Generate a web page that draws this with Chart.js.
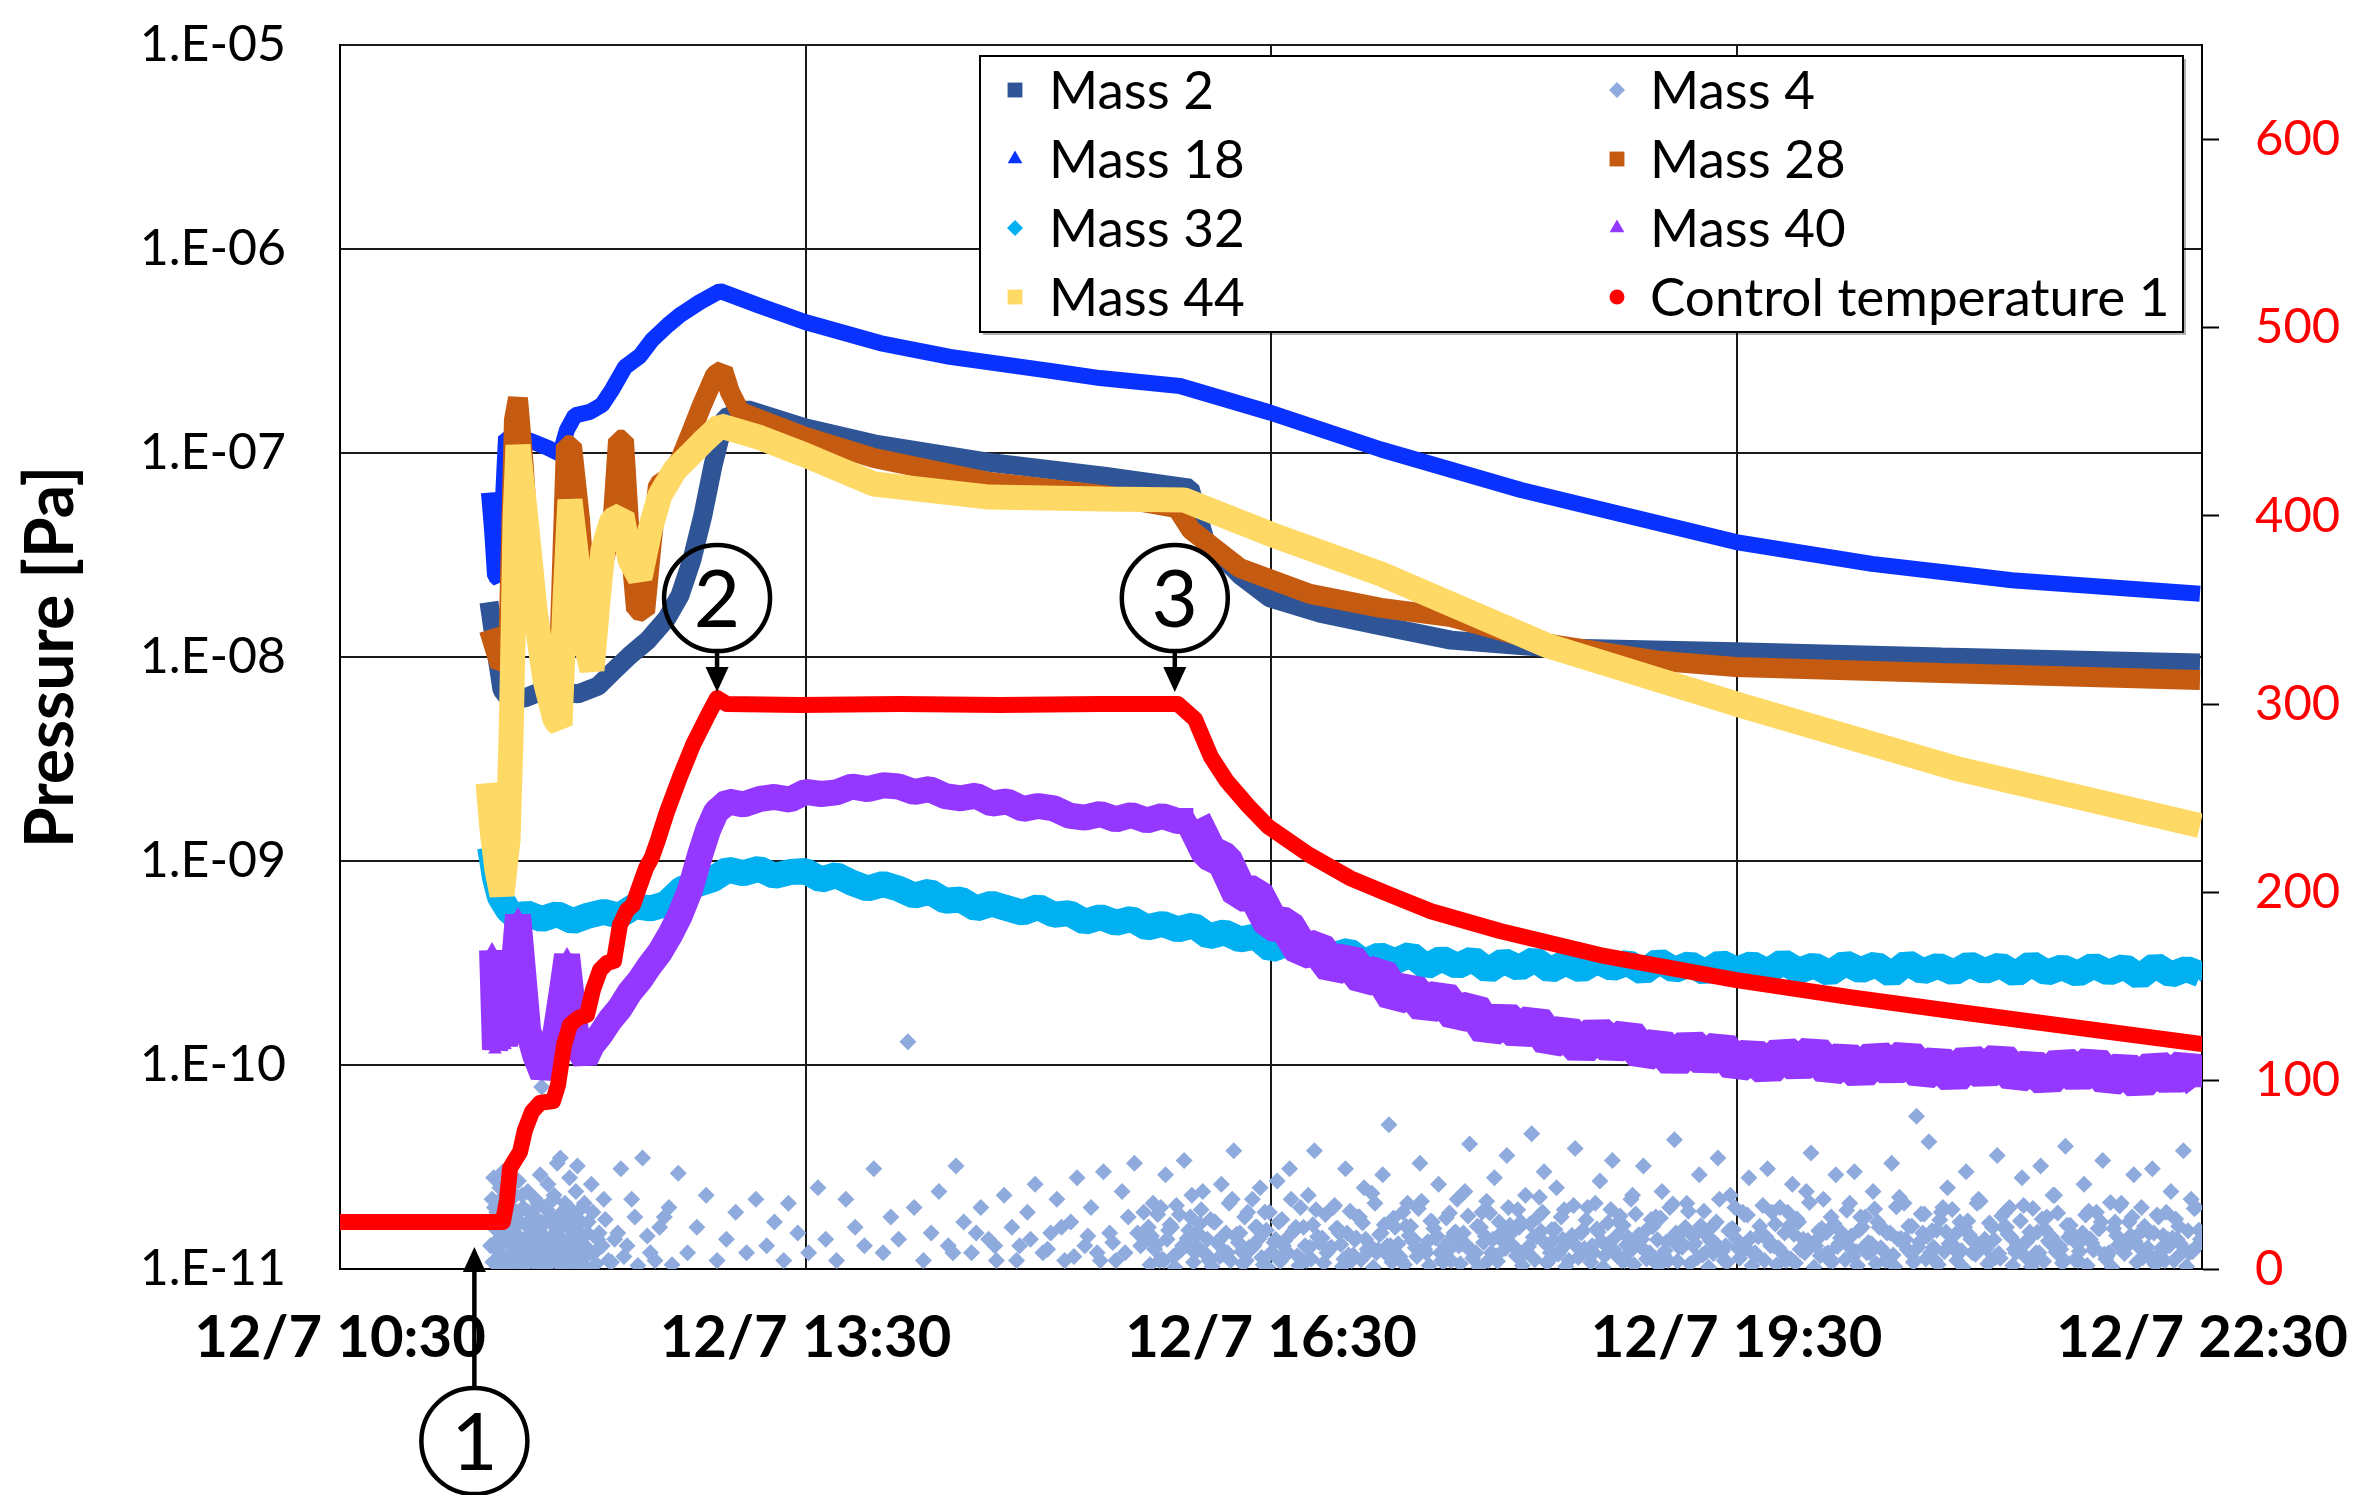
<!DOCTYPE html>
<html>
<head>
<meta charset="utf-8">
<title>Pressure and control temperature</title>
<script src="https://cdn.jsdelivr.net/npm/chart.js@4.4.1/dist/chart.umd.min.js"></script>
<style>
  html, body { margin: 0; padding: 0; background: #ffffff; }
  #wrap { width: 2357px; height: 1495px; position: relative; }
</style>
</head>
<body>
<div id="wrap"><canvas id="chart" width="2357" height="1495"></canvas></div>
<script>
// ---- axis ticks -------------------------------------------------------
const timeTicks = [10.5, 13.5, 16.5, 19.5, 22.5];            // hours of 12/7
const timeLabels = ['12/7 10:30', '12/7 13:30', '12/7 16:30', '12/7 19:30', '12/7 22:30'];
const pressureTicks = [1e-11, 1e-10, 1e-9, 1e-8, 1e-7, 1e-6, 1e-5];
const tempTicks = [0, 100, 200, 300, 400, 500, 600];

// ---- series: [time (h), pressure (Pa)] -------------------------------
const mass2 = [
  [11.460,1.86e-8],[11.505,1.08e-8],[11.544,6.9e-9],[11.596,6.15e-9],[11.692,6.3e-9],[11.821,6.9e-9],
  [11.918,6.7e-9],[12.034,6.6e-9],[12.163,7.2e-9],[12.253,8.4e-9],[12.369,1.02e-8],[12.485,1.21e-8],
  [12.607,1.55e-8],[12.691,2.0e-8],[12.768,3.0e-8],[12.839,4.96e-8],[12.904,8.7e-8],[12.981,1.49e-7],
  [13.129,1.63e-7],[13.497,1.33e-7],[13.941,1.11e-7],[14.683,9.0e-8],[15.424,7.7e-8],[15.978,6.73e-8],
  [16.075,3.75e-8],[16.300,2.52e-8],[16.493,1.95e-8],[16.816,1.64e-8],[17.209,1.42e-8],[17.660,1.21e-8],
  [18.291,1.11e-8],[19.497,1.06e-8],[20.824,1.0e-8],[22.487,9.35e-9]
];

const mass4 = [
  [11.47,1.3e-11],[11.48,2.2e-11],[11.49,2.8e-11],[11.49,1.6e-11],[11.50,1.1e-11],[11.51,1.9e-11],[11.52,1.4e-11],[11.53,2.5e-11],
  [11.53,1.2e-11],[11.54,1.8e-11],[11.55,3.0e-11],[11.56,1.5e-11],[11.57,1.1e-11],[11.58,2.1e-11],[11.58,1.6e-11],[11.59,2.6e-11],
  [11.60,1.3e-11],[11.61,1.9e-11],[11.62,1.2e-11],[11.63,2.3e-11],[11.63,1.5e-11],[11.64,1.1e-11],[11.65,2.7e-11],[11.66,1.7e-11],
  [11.67,1.3e-11],[11.68,2.0e-11],[11.69,1.4e-11],[11.70,1.2e-11],[11.71,2.4e-11],[11.72,1.6e-11],[11.73,1.1e-11],[11.74,1.9e-11],
  [11.75,1.3e-11],[11.76,2.2e-11],[11.77,1.5e-11],[11.78,1.2e-11],[11.79,2.9e-11],[11.80,7.8e-11],[11.80,1.7e-11],[11.81,1.1e-11],
  [11.82,2.0e-11],[11.83,1.4e-11],[11.84,2.6e-11],[11.85,1.3e-11],[11.86,1.8e-11],[11.87,1.1e-11],[11.88,2.3e-11],[11.89,1.5e-11],
  [11.90,3.3e-11],[11.91,1.2e-11],[11.92,3.5e-11],[11.93,1.7e-11],[11.94,1.3e-11],[11.95,2.1e-11],[11.96,1.1e-11],[11.97,1.6e-11],
  [11.98,2.8e-11],[11.99,1.4e-11],[12.00,1.9e-11],[12.01,1.2e-11],[12.02,2.4e-11],[12.03,3.2e-11],[12.04,1.5e-11],[12.05,1.1e-11],
  [12.06,2.0e-11],[12.08,1.3e-11],[12.10,1.7e-11],[12.12,2.6e-11],[12.14,1.2e-11],[12.17,1.5e-11],[12.20,2.2e-11],[12.23,1.1e-11],
  [12.27,1.4e-11],[12.31,3.1e-11],[12.35,1.3e-11],[12.40,1.8e-11],[12.45,3.5e-11],[12.50,1.2e-11],[12.56,1.6e-11],[12.62,2.0e-11],
  [12.68,2.95e-11],
  [11.485,1.08e-11],[11.505,1.25e-11],[11.525,1.04e-11],[11.545,1.35e-11],[11.565,1.12e-11],[11.585,1.02e-11],[11.605,1.28e-11],
  [11.625,1.07e-11],[11.645,1.4e-11],[11.665,1.15e-11],[11.685,1.03e-11],[11.705,1.3e-11],[11.725,1.1e-11],[11.745,1.22e-11],
  [11.765,1.05e-11],[11.785,1.38e-11],[11.805,1.13e-11],[11.825,1.02e-11],[11.845,1.26e-11],[11.865,1.09e-11],[11.885,1.33e-11],
  [11.905,1.06e-11],[11.925,1.18e-11],[11.945,1.02e-11],[11.965,1.36e-11],[11.985,1.1e-11],[12.005,1.24e-11],[12.025,1.04e-11],
  [12.045,1.3e-11],[12.065,1.12e-11],[12.085,1.02e-11],[12.11,1.2e-11],[12.15,1.06e-11],[12.19,1.3e-11],[12.25,1.08e-11],
  [12.33,1.15e-11],[12.42,1.04e-11],[12.53,1.1e-11],[12.64,1.05e-11],
  [11.475,1.7e-11],[11.495,2.0e-11],[11.515,1.55e-11],[11.535,2.2e-11],[11.555,1.75e-11],[11.575,1.45e-11],[11.595,2.05e-11],
  [11.615,1.6e-11],[11.635,1.85e-11],[11.655,1.4e-11],[11.675,2.3e-11],[11.695,1.65e-11],[11.715,1.9e-11],[11.735,1.5e-11],
  [11.755,1.8e-11],[11.775,2.1e-11],[11.795,1.6e-11],[11.815,1.45e-11],[11.835,1.95e-11],[11.855,1.7e-11],[11.875,2.2e-11],
  [11.895,1.55e-11],[11.915,1.85e-11],[11.935,1.4e-11],[11.955,1.75e-11],[11.975,2.0e-11],[11.995,1.6e-11],[12.015,1.8e-11],
  [12.035,1.45e-11],[12.055,1.7e-11],[12.075,2.1e-11],[12.095,1.5e-11],[12.13,1.9e-11],[12.16,1.4e-11],[12.21,1.75e-11],
  [12.29,1.5e-11],[12.38,2.2e-11],[12.48,1.45e-11],[12.59,1.8e-11],
  [12.74,1.2e-11],[12.80,1.6e-11],[12.86,2.3e-11],[12.93,1.1e-11],[12.99,1.4e-11],[13.05,1.9e-11],[13.12,1.2e-11],[13.18,2.2e-11],
  [13.25,1.3e-11],[13.30,1.7e-11],[13.36,1.1e-11],[13.39,2.1e-11],[13.45,1.5e-11],[13.52,1.2e-11],[13.58,2.5e-11],[13.63,1.4e-11],
  [13.70,1.1e-11],[13.76,2.2e-11],[13.82,1.6e-11],[13.88,1.3e-11],[13.94,3.1e-11],[14.00,1.2e-11],[14.05,1.8e-11],[14.10,1.4e-11],
  [14.16,1.3e-10],[14.20,2.0e-11],[14.26,1.1e-11],[14.31,1.5e-11],[14.36,2.4e-11],[14.42,1.3e-11],[14.47,3.2e-11],[14.52,1.7e-11],
  [14.57,1.2e-11],[14.63,2.0e-11],[14.68,1.4e-11],[14.73,1.1e-11],[14.78,2.3e-11],[14.83,1.6e-11],[14.88,1.3e-11],[14.93,1.9e-11],
  [14.98,2.6e-11],[15.03,1.2e-11],[15.08,1.5e-11],[15.12,2.2e-11],[15.17,1.1e-11],[15.21,1.7e-11],[15.25,2.8e-11],[15.30,1.3e-11],
  [15.34,2.0e-11],[15.38,1.2e-11],[15.42,3.0e-11],[15.46,1.5e-11],[15.50,1.1e-11],[15.54,2.4e-11],[15.58,1.8e-11],[15.62,3.3e-11],
  [15.66,1.3e-11],
  [14.45,1.2e-11],[14.60,1.5e-11],[14.72,1.3e-11],[14.86,1.1e-11],[14.95,1.4e-11],[15.06,1.25e-11],[15.15,1.6e-11],
  [15.23,1.15e-11],[15.32,1.45e-11],[15.40,1.1e-11],[15.48,1.35e-11],[15.56,1.2e-11],[15.64,1.5e-11],[15.68,1.9e-11],
  [15.70,1.4e-11],[15.72,1.05e-11],[15.74,2.1e-11],[15.76,1.32e-11],[15.78,1.1e-11],[15.80,1.12e-11],[15.82,2.9e-11],[15.84,1.55e-11],[15.86,1.6e-11],[15.88,1.02e-11],
  [15.90,1.2e-11],[15.92,1.24e-11],[15.94,3.4e-11],[15.96,1.41e-11],[15.98,1.8e-11],[16.00,1.08e-11],[16.02,1.3e-11],[16.04,1.66e-11],[16.06,2.4e-11],[16.08,1.18e-11],
  [16.10,1.1e-11],[16.12,1.03e-11],[16.14,1.7e-11],[16.16,1.37e-11],[16.18,2.6e-11],[16.20,1.22e-11],[16.22,1.2e-11],[16.24,1.1e-11],[16.26,3.8e-11],[16.28,1.48e-11],
  [16.30,1.5e-11],[16.32,1.06e-11],[16.34,1.1e-11],[16.36,1.28e-11],[16.38,2.2e-11],[16.40,1.6e-11],[16.42,1.4e-11],[16.44,1.14e-11],[16.46,1.9e-11],[16.48,1.02e-11],
  [16.50,1.2e-11],[16.52,1.35e-11],[16.54,2.7e-11],[16.56,1.09e-11],[16.58,1.3e-11],[16.60,1.21e-11],[16.62,3.1e-11],[16.64,1.52e-11],[16.66,1.6e-11],[16.68,1.04e-11],
  [16.70,1.1e-11],[16.72,1.3e-11],[16.74,2.3e-11],[16.76,1.12e-11],[16.78,3.8e-11],[16.80,1.44e-11],[16.82,1.4e-11],[16.84,1.07e-11],[16.86,1.2e-11],[16.88,1.26e-11],
  [16.90,2.0e-11],[16.92,1.58e-11],[16.94,1.5e-11],[16.96,1.03e-11],[16.98,3.1e-11],[17.00,1.17e-11],[17.02,1.1e-11],[17.04,1.39e-11],[17.06,1.8e-11],[17.08,1.11e-11],
  [17.10,2.5e-11],[17.12,1.25e-11],[17.14,1.3e-11],[17.16,1.02e-11],[17.18,1.2e-11],[17.20,1.47e-11],[17.22,2.9e-11],[17.24,1.19e-11],[17.26,5.1e-11],[17.28,1.08e-11],
  [17.30,1.6e-11],[17.32,1.33e-11],[17.34,1.1e-11],[17.36,1.05e-11],[17.38,2.1e-11],[17.40,1.62e-11],[17.42,1.4e-11],[17.44,1.15e-11],[17.46,3.3e-11],[17.48,1.27e-11],
  [17.50,1.2e-11],[17.52,1.04e-11],[17.54,1.7e-11],[17.56,1.42e-11],[17.58,2.6e-11],[17.60,1.1e-11],[17.62,1.3e-11],[17.64,1.23e-11],[17.66,1.1e-11],[17.68,1.5e-11],
  [17.70,2.2e-11],[17.72,1.06e-11],[17.74,1.5e-11],[17.76,1.31e-11],[17.78,4.1e-11],[17.80,1.13e-11],[17.82,1.2e-11],[17.84,1.02e-11],[17.86,1.9e-11],[17.88,1.45e-11],
  [17.90,1.1e-11],[17.92,1.2e-11],[17.94,2.8e-11],[17.96,1.09e-11],[17.98,1.4e-11],[18.00,1.36e-11],[18.02,3.6e-11],[18.04,1.64e-11],[18.06,1.3e-11],[18.08,1.16e-11],
  [18.10,1.6e-11],[18.12,1.04e-11],[18.14,2.3e-11],[18.16,1.29e-11],[18.18,4.6e-11],[18.20,1.11e-11],[18.22,1.8e-11],[18.24,1.53e-11],[18.26,3.0e-11],[18.28,1.07e-11],
  [18.30,1.2e-11],[18.32,1.38e-11],[18.34,2.5e-11],[18.36,1.22e-11],[18.38,1.4e-11],[18.40,1.03e-11],[18.42,1.1e-11],[18.44,1.46e-11],[18.46,3.9e-11],[18.48,1.14e-11],
  [18.50,1.5e-11],[18.52,1.26e-11],[18.54,2.0e-11],[18.56,1.08e-11],[18.58,1.2e-11],[18.60,1.57e-11],[18.62,2.7e-11],[18.64,1.02e-11],[18.66,1.3e-11],[18.68,1.34e-11],
  [18.70,3.4e-11],[18.72,1.18e-11],[18.74,1.7e-11],[18.76,1.1e-11],[18.78,1.1e-11],[18.80,1.43e-11],[18.82,2.2e-11],[18.84,1.05e-11],[18.86,1.4e-11],[18.88,1.29e-11],
  [18.90,3.2e-11],[18.92,1.12e-11],[18.94,1.2e-11],[18.96,1.61e-11],[18.98,1.8e-11],[19.00,1.04e-11],[19.02,2.4e-11],[19.04,1.23e-11],[19.06,1.1e-11],[19.08,1.4e-11],
  [19.10,4.3e-11],[19.12,1.09e-11],[19.14,1.5e-11],[19.16,1.31e-11],[19.18,2.1e-11],[19.20,1.06e-11],[19.22,1.3e-11],[19.24,1.49e-11],[19.26,2.9e-11],[19.28,1.17e-11],
  [19.30,1.2e-11],[19.32,1.02e-11],[19.34,1.6e-11],[19.36,1.35e-11],[19.38,3.5e-11],[19.40,1.21e-11],[19.42,1.1e-11],[19.44,1.08e-11],[19.46,2.3e-11],[19.48,1.56e-11],
  [19.50,1.4e-11],[19.52,1.13e-11],[19.54,1.9e-11],[19.56,1.27e-11],[19.58,2.8e-11],[19.60,1.04e-11],[19.62,1.2e-11],[19.64,1.44e-11],[19.66,1.5e-11],[19.68,1.1e-11],
  [19.70,3.1e-11],[19.72,1.3e-11],[19.74,1.3e-11],[19.76,1.05e-11],[19.78,2.0e-11],[19.80,1.19e-11],[19.82,1.1e-11],[19.84,1.63e-11],[19.86,2.6e-11],[19.88,1.07e-11],
  [19.90,1.7e-11],[19.92,1.24e-11],[19.94,1.2e-11],[19.96,1.38e-11],[19.98,3.7e-11],[20.00,1.02e-11],[20.02,1.4e-11],[20.04,1.16e-11],[20.06,2.2e-11],[20.08,1.51e-11],
  [20.10,1.1e-11],[20.12,1.09e-11],[20.14,2.9e-11],[20.16,1.33e-11],[20.18,1.5e-11],[20.20,1.11e-11],[20.22,1.3e-11],[20.24,1.45e-11],[20.26,3.0e-11],[20.28,1.04e-11],
  [20.30,1.8e-11],[20.32,1.28e-11],[20.34,1.2e-11],[20.36,1.2e-11],[20.38,2.4e-11],[20.40,1.06e-11],[20.42,1.6e-11],[20.44,1.59e-11],[20.46,1.1e-11],[20.48,1.14e-11],
  [20.50,3.3e-11],[20.52,1.03e-11],[20.54,1.4e-11],[20.56,1.41e-11],[20.58,2.1e-11],[20.60,1.25e-11],[20.62,1.2e-11],[20.64,1.08e-11],[20.66,5.6e-11],[20.68,1.36e-11],
  [20.70,1.5e-11],[20.72,1.12e-11],[20.74,4.2e-11],[20.76,1.54e-11],[20.78,1.1e-11],[20.80,1.05e-11],[20.82,1.9e-11],[20.84,1.22e-11],[20.86,2.5e-11],[20.88,1.32e-11],
  [20.90,1.3e-11],[20.92,1.1e-11],[20.94,1.7e-11],[20.96,1.02e-11],[20.98,3.0e-11],[21.00,1.47e-11],[21.02,1.2e-11],[21.04,1.18e-11],[21.06,2.2e-11],[21.08,1.29e-11],
  [21.10,1.4e-11],[21.12,1.06e-11],[21.14,1.1e-11],[21.16,1.39e-11],[21.18,3.6e-11],[21.20,1.13e-11],[21.22,1.6e-11],[21.24,1.6e-11],[21.26,2.0e-11],[21.28,1.04e-11],
  [21.30,1.2e-11],[21.32,1.26e-11],[21.34,2.8e-11],[21.36,1.15e-11],[21.38,1.4e-11],[21.40,1.03e-11],[21.42,1.1e-11],[21.44,1.52e-11],[21.46,3.2e-11],[21.48,1.09e-11],
  [21.50,1.8e-11],[21.52,1.34e-11],[21.54,2.3e-11],[21.56,1.21e-11],[21.58,1.3e-11],[21.60,1.07e-11],[21.62,4.0e-11],[21.64,1.43e-11],[21.66,1.5e-11],[21.68,1.11e-11],
  [21.70,1.1e-11],[21.72,1.37e-11],[21.74,2.6e-11],[21.76,1.04e-11],[21.78,1.4e-11],[21.80,1.24e-11],[21.82,1.9e-11],[21.84,1.58e-11],[21.86,3.4e-11],[21.88,1.12e-11],
  [21.90,1.2e-11],[21.92,1.02e-11],[21.94,1.7e-11],[21.96,1.31e-11],[21.98,2.1e-11],[22.00,1.19e-11],[22.02,1.3e-11],[22.04,1.46e-11],[22.06,2.9e-11],[22.08,1.08e-11],
  [22.10,1.5e-11],[22.12,1.14e-11],[22.14,1.2e-11],[22.16,1.5e-11],[22.18,3.1e-11],[22.20,1.05e-11],[22.22,1.8e-11],[22.24,1.27e-11],[22.26,1.1e-11],[22.28,1.4e-11],
  [22.30,2.4e-11],[22.32,1.1e-11],[22.34,1.4e-11],[22.36,1.33e-11],[22.38,3.8e-11],[22.40,1.03e-11],[22.42,1.2e-11],[22.44,1.22e-11],[22.46,2.0e-11],[22.48,1.55e-11],
  [15.71,1.6e-11],[15.75,1.25e-11],[15.79,2.0e-11],[15.83,1.4e-11],[15.87,1.15e-11],[15.91,1.85e-11],[15.95,1.3e-11],[15.99,2.3e-11],[16.03,1.5e-11],[16.07,1.2e-11],
  [16.11,1.75e-11],[16.15,1.35e-11],[16.19,1.18e-11],[16.23,2.1e-11],[16.27,1.45e-11],[16.31,1.22e-11],[16.35,1.9e-11],[16.39,1.3e-11],[16.43,2.5e-11],[16.47,1.55e-11],
  [16.51,1.2e-11],[16.55,1.7e-11],[16.59,1.38e-11],[16.63,2.2e-11],[16.67,1.16e-11],[16.71,1.6e-11],[16.75,1.28e-11],[16.79,1.95e-11],[16.83,1.42e-11],[16.87,1.25e-11],
  [16.91,2.05e-11],[16.95,1.32e-11],[16.99,1.5e-11],[17.03,1.17e-11],[17.07,1.8e-11],[17.11,1.4e-11],[17.15,2.35e-11],[17.19,1.24e-11],[17.23,1.65e-11],[17.27,1.3e-11],
  [17.31,1.19e-11],[17.35,1.9e-11],[17.39,1.46e-11],[17.43,1.27e-11],[17.47,2.15e-11],[17.51,1.36e-11],[17.55,1.58e-11],[17.59,1.2e-11],[17.63,1.78e-11],[17.67,1.44e-11],
  [17.71,1.3e-11],[17.75,2.4e-11],[17.79,1.22e-11],[17.83,1.62e-11],[17.87,1.35e-11],[17.91,1.88e-11],[17.95,1.16e-11],[17.99,1.52e-11],[18.03,2.0e-11],[18.07,1.27e-11],
  [18.11,1.7e-11],[18.15,1.21e-11],[18.19,1.43e-11],[18.23,2.25e-11],[18.27,1.33e-11],[18.31,1.56e-11],[18.35,1.18e-11],[18.39,1.95e-11],[18.43,1.4e-11],[18.47,1.29e-11],
  [18.51,1.55e-11],[18.55,1.2e-11],[18.59,2.1e-11],[18.63,1.37e-11],[18.67,1.68e-11],[18.71,1.24e-11],[18.75,1.82e-11],[18.79,1.31e-11],[18.83,2.3e-11],[18.87,1.47e-11],
  [18.91,1.23e-11],[18.95,1.75e-11],[18.99,1.39e-11],[19.03,1.17e-11],[19.07,2.0e-11],[19.11,1.5e-11],[19.15,1.28e-11],[19.19,1.92e-11],[19.23,1.34e-11],[19.27,1.63e-11],
  [19.31,1.45e-11],[19.35,1.19e-11],[19.39,2.2e-11],[19.43,1.3e-11],[19.47,1.58e-11],[19.51,1.26e-11],[19.55,1.85e-11],[19.59,1.41e-11],[19.63,1.16e-11],[19.67,2.05e-11],
  [19.71,1.36e-11],[19.75,1.66e-11],[19.79,1.21e-11],[19.83,1.9e-11],[19.87,1.48e-11],[19.91,1.25e-11],[19.95,2.4e-11],[19.99,1.32e-11],[20.03,1.54e-11],[20.07,1.18e-11],
  [20.11,1.8e-11],[20.15,1.29e-11],[20.19,1.45e-11],[20.23,2.1e-11],[20.27,1.22e-11],[20.31,1.6e-11],[20.35,1.35e-11],[20.39,1.97e-11],[20.43,1.27e-11],[20.47,1.5e-11],
  [20.51,1.17e-11],[20.55,2.25e-11],[20.59,1.4e-11],[20.63,1.62e-11],[20.67,1.28e-11],[20.71,1.86e-11],[20.75,1.2e-11],[20.79,1.55e-11],[20.83,2.0e-11],[20.87,1.33e-11],
  [20.91,1.48e-11],[20.95,1.23e-11],[20.99,1.72e-11],[21.03,1.38e-11],[21.07,2.15e-11],[21.11,1.26e-11],[21.15,1.6e-11],[21.19,1.19e-11],[21.23,1.9e-11],[21.27,1.43e-11],
  [21.31,1.31e-11],[21.35,2.05e-11],[21.39,1.52e-11],[21.43,1.2e-11],[21.47,1.76e-11],[21.51,1.37e-11],[21.55,2.3e-11],[21.59,1.25e-11],[21.63,1.64e-11],[21.67,1.4e-11],
  [21.71,1.22e-11],[21.75,1.84e-11],[21.79,1.34e-11],[21.83,1.58e-11],[21.87,1.18e-11],[21.91,2.12e-11],[21.95,1.46e-11],[21.99,1.28e-11],[22.03,1.7e-11],[22.07,1.36e-11],
  [22.11,2.0e-11],[22.15,1.27e-11],[22.19,1.5e-11],[22.23,1.2e-11],[22.27,1.9e-11],[22.31,1.42e-11],[22.35,1.62e-11],[22.39,1.24e-11],[22.43,2.2e-11],[22.47,1.3e-11],
  [15.73,1.45e-11],[15.77,1.85e-11],[15.81,1.1e-11],[15.85,1.65e-11],[15.89,2.05e-11],[15.93,1.3e-11],[15.97,1.55e-11],[16.01,1.2e-11],[16.05,1.95e-11],[16.09,1.4e-11],
  [16.13,1.7e-11],[16.17,1.15e-11],[16.21,1.5e-11],[16.25,2.2e-11],[16.29,1.35e-11],[16.33,1.8e-11],[16.37,1.25e-11],[16.41,1.6e-11],[16.45,1.05e-11],[16.49,1.9e-11],
  [16.53,1.4e-11],[16.57,1.75e-11],[16.61,1.2e-11],[16.65,1.55e-11],[16.69,2.0e-11],[16.73,1.1e-11],[16.77,1.65e-11],[16.81,1.35e-11],[16.85,1.85e-11],[16.89,1.28e-11],
  [16.93,1.58e-11],[16.97,1.12e-11],[17.01,1.92e-11],[17.05,1.42e-11],[17.09,1.68e-11],[17.13,1.22e-11],[17.17,2.1e-11],[17.21,1.5e-11],[17.25,1.3e-11],[17.29,1.78e-11],
  [17.33,1.15e-11],[17.37,1.62e-11],[17.41,1.38e-11],[17.45,1.98e-11],[17.49,1.25e-11],[17.53,1.72e-11],[17.57,1.45e-11],[17.61,1.08e-11],[17.65,1.88e-11],[17.69,1.52e-11],
  [17.73,1.33e-11],[17.77,1.82e-11],[17.81,1.18e-11],[17.85,1.6e-11],[17.89,2.15e-11],[17.93,1.4e-11],[17.97,1.7e-11],[18.01,1.26e-11],[18.05,1.5e-11],[18.09,1.95e-11],
  [18.13,1.2e-11],[18.17,1.66e-11],[18.21,1.44e-11],[18.25,1.9e-11],[18.29,1.1e-11],[18.33,1.56e-11],[18.37,1.8e-11],[18.41,1.34e-11],[18.45,2.05e-11],[18.49,1.24e-11],
  [18.53,1.74e-11],[18.57,1.3e-11],[18.61,1.52e-11],[18.65,1.16e-11],[18.69,1.96e-11],[18.73,1.46e-11],[18.77,1.64e-11],[18.81,1.21e-11],[18.85,1.86e-11],[18.89,1.4e-11],
  [18.93,1.58e-11],[18.97,1.09e-11],[19.01,1.78e-11],[19.05,1.36e-11],[19.09,2.08e-11],[19.13,1.28e-11],[19.17,1.6e-11],[19.21,1.47e-11],[19.25,1.14e-11],[19.29,1.92e-11],
  [19.33,1.38e-11],[19.37,1.7e-11],[19.41,1.23e-11],[19.45,1.54e-11],[19.49,2.0e-11],[19.53,1.32e-11],[19.57,1.84e-11],[19.61,1.18e-11],[19.65,1.62e-11],[19.69,1.44e-11],
  [19.73,1.9e-11],[19.77,1.27e-11],[19.81,1.5e-11],[19.85,1.12e-11],[19.89,1.76e-11],[19.93,1.4e-11],[19.97,2.12e-11],[20.01,1.3e-11],[20.05,1.58e-11],[20.09,1.2e-11],
  [20.13,1.66e-11],[20.17,1.42e-11],[20.21,1.94e-11],[20.25,1.15e-11],[20.29,1.55e-11],[20.33,1.8e-11],[20.37,1.33e-11],[20.41,1.7e-11],[20.45,1.22e-11],[20.49,1.5e-11],
  [20.53,2.02e-11],[20.57,1.35e-11],[20.61,1.62e-11],[20.65,1.1e-11],[20.69,1.86e-11],[20.73,1.45e-11],[20.77,1.28e-11],[20.81,1.74e-11],[20.85,1.52e-11],[20.89,1.96e-11],
  [20.93,1.19e-11],[20.97,1.6e-11],[21.01,1.4e-11],[21.05,2.1e-11],[21.09,1.3e-11],[21.13,1.68e-11],[21.17,1.14e-11],[21.21,1.82e-11],[21.25,1.48e-11],[21.29,1.25e-11],
  [21.33,1.72e-11],[21.37,1.36e-11],[21.41,1.98e-11],[21.45,1.2e-11],[21.49,1.56e-11],[21.53,1.44e-11],[21.57,1.88e-11],[21.61,1.11e-11],[21.65,1.64e-11],[21.69,1.34e-11],
  [21.73,1.5e-11],[21.77,1.92e-11],[21.81,1.26e-11],[21.85,1.7e-11],[21.89,1.16e-11],[21.93,1.58e-11],[21.97,2.04e-11],[22.01,1.38e-11],[22.05,1.8e-11],[22.09,1.29e-11],
  [22.13,1.62e-11],[22.17,1.12e-11],[22.21,1.84e-11],[22.25,1.46e-11],[22.29,1.3e-11],[22.33,1.76e-11],[22.37,1.2e-11],[22.41,1.54e-11],[22.45,1.98e-11],[22.49,1.4e-11]
];

const mass18 = [
  [11.460,6.4e-8],[11.480,4.2e-8],[11.499,2.5e-8],[11.525,2.4e-8],[11.570,1.2e-7],[11.724,1.15e-7],
  [11.840,1.06e-7],[11.918,9.9e-8],[11.963,1.3e-7],[12.014,1.53e-7],[12.111,1.59e-7],[12.188,1.72e-7],
  [12.253,2.04e-7],[12.337,2.64e-7],[12.433,2.99e-7],[12.511,3.58e-7],[12.614,4.24e-7],[12.691,4.74e-7],
  [12.820,5.5e-7],[12.949,6.22e-7],[13.207,5.26e-7],[13.497,4.39e-7],[13.980,3.46e-7],[14.431,2.96e-7],
  [15.089,2.52e-7],[15.398,2.33e-7],[15.913,2.13e-7],[16.493,1.58e-7],[17.209,1.04e-7],[18.111,6.59e-8],
  [19.497,3.66e-8],[20.373,2.86e-8],[20.934,2.55e-8],[21.275,2.38e-8],[22.487,2.04e-8]
];

const mass28 = [
  [11.460,1.36e-8],[11.531,9.1e-9],[11.583,9.7e-9],[11.621,1.45e-7],[11.647,1.86e-7],[11.686,8.3e-8],
  [11.737,1.9e-8],[11.802,1.08e-8],[11.866,9.7e-9],[11.918,1.36e-8],[11.956,1.09e-7],[11.995,1.09e-7],
  [12.047,4.7e-8],[12.105,1.15e-8],[12.156,1.9e-8],[12.201,3.0e-8],[12.253,4.2e-8],[12.292,1.16e-7],
  [12.330,1.16e-7],[12.369,3.75e-8],[12.408,1.7e-8],[12.466,1.66e-8],[12.511,3.75e-8],[12.549,6.97e-8],
  [12.614,7.54e-8],[12.691,9.24e-8],[12.756,1.22e-7],[12.833,1.72e-7],[12.917,2.41e-7],[12.968,2.55e-7],
  [13.013,1.99e-7],[13.078,1.59e-7],[13.497,1.2e-7],[13.941,9.45e-8],[14.683,7.21e-8],[15.424,6.22e-8],
  [15.894,5.37e-8],[15.984,4.2e-8],[16.300,2.73e-8],[16.751,2.04e-8],[17.209,1.74e-8],[17.660,1.57e-8],
  [18.291,1.16e-8],[19.013,9.55e-9],[19.497,8.93e-9],[20.824,8.35e-9],[22.487,7.71e-9]
];

const mass32 = [
  [11.467,1.17e-9],[11.499,8.26e-10],[11.531,6.67e-10],[11.583,5.75e-10],[11.640,5.26e-10],
  [11.70,5.56e-10],[11.80,5.19e-10],[11.90,5.50e-10],[12.00,5.07e-10],[12.10,5.40e-10],[12.20,5.63e-10],
  [12.30,5.39e-10],[12.40,6.01e-10],[12.50,5.85e-10],[12.60,6.15e-10],[12.70,7.27e-10],[12.80,7.69e-10],
  [12.90,8.12e-10],[13.00,9.08e-10],[13.10,8.71e-10],[13.20,9.16e-10],[13.30,8.45e-10],[13.40,8.83e-10],
  [13.50,8.93e-10],[13.60,8.10e-10],[13.70,8.53e-10],[13.80,7.82e-10],[13.90,7.32e-10],[14.00,7.71e-10],
  [14.10,7.32e-10],[14.20,6.76e-10],[14.30,7.08e-10],[14.40,6.38e-10],[14.50,6.47e-10],[14.60,5.84e-10],
  [14.70,6.18e-10],[14.80,5.87e-10],[14.90,5.58e-10],[15.00,5.96e-10],[15.10,5.45e-10],[15.20,5.55e-10],
  [15.30,5.03e-10],[15.40,5.31e-10],[15.50,4.98e-10],[15.60,5.20e-10],[15.70,4.72e-10],[15.80,4.92e-10],
  [15.90,4.62e-10],[16.00,4.84e-10],[16.10,4.27e-10],[16.20,4.47e-10],[16.30,4.12e-10],[16.40,4.27e-10],
  [16.50,3.68e-10],[16.60,3.93e-10],[16.70,3.58e-10],[16.80,3.78e-10],[16.90,3.44e-10],[17.00,3.63e-10],
  [17.10,3.19e-10],[17.20,3.46e-10],[17.30,3.22e-10],[17.40,3.49e-10],[17.50,3.03e-10],[17.60,3.33e-10],
  [17.70,3.05e-10],[17.80,3.31e-10],[17.90,2.90e-10],[18.00,3.24e-10],[18.10,2.98e-10],[18.20,3.30e-10],
  [18.30,2.91e-10],[18.40,3.18e-10],[18.50,2.92e-10],[18.60,3.24e-10],[18.70,2.98e-10],[18.80,3.18e-10],
  [18.90,2.84e-10],[19.00,3.25e-10],[19.10,2.92e-10],[19.20,3.13e-10],[19.30,2.84e-10],[19.40,3.18e-10],
  [19.50,2.92e-10],[19.60,3.13e-10],[19.70,2.86e-10],[19.80,3.21e-10],[19.90,2.89e-10],[20.00,3.08e-10],
  [20.10,2.81e-10],[20.20,3.16e-10],[20.30,2.91e-10],[20.40,3.12e-10],[20.50,2.77e-10],[20.60,3.18e-10],
  [20.70,2.87e-10],[20.80,3.07e-10],[20.90,2.83e-10],[21.00,3.13e-10],[21.10,2.88e-10],[21.20,3.09e-10],
  [21.30,2.78e-10],[21.40,3.15e-10],[21.50,2.83e-10],[21.60,3.02e-10],[21.70,2.79e-10],[21.80,3.08e-10],
  [21.90,2.83e-10],[22.00,3.04e-10],[22.10,2.70e-10],[22.20,3.09e-10],[22.30,2.77e-10],[22.40,2.96e-10],
  [22.49,2.78e-10]
];

const mass40 = [
  [11.480,3.66e-10],[11.499,1.19e-10],[11.531,1.86e-10],[11.563,1.25e-10],[11.608,2.33e-10],[11.647,5.43e-10],
  [11.673,3.27e-10],[11.712,1.49e-10],[11.757,1.12e-10],[11.808,8.93e-11],[11.853,1.04e-10],[11.892,1.49e-10],
  [11.931,2.33e-10],[11.963,3.46e-10],[11.995,2.08e-10],[12.034,1.21e-10],[12.079,1.06e-10],[12.124,1.25e-10],
  [12.176,1.40e-10],[12.240,1.66e-10],[12.304,1.90e-10],[12.369,2.28e-10],[12.433,2.61e-10],[12.498,3.09e-10],
  [12.562,3.58e-10],[12.627,4.34e-10],[12.691,5.43e-10],[12.756,7.21e-10],[12.820,1.07e-9],[12.872,1.42e-9],
  [12.923,1.74e-9],[12.96,1.84e-9],
  [13.0,1.96e-9],[13.1,1.89e-9],[13.2,2.01e-9],[13.3,2.06e-9],[13.4,2.00e-9],[13.5,2.18e-9],[13.6,2.13e-9],
  [13.7,2.17e-9],[13.8,2.32e-9],[13.9,2.25e-9],[14.0,2.35e-9],[14.1,2.32e-9],[14.2,2.18e-9],[14.3,2.25e-9],
  [14.4,2.08e-9],[14.5,2.03e-9],[14.6,2.09e-9],[14.7,1.91e-9],[14.8,1.96e-9],[14.9,1.80e-9],[15.0,1.86e-9],
  [15.1,1.81e-9],[15.2,1.67e-9],[15.3,1.63e-9],[15.4,1.70e-9],[15.5,1.60e-9],[15.6,1.68e-9],[15.7,1.58e-9],
  [15.8,1.66e-9],[15.9,1.57e-9],[16.0,1.57e-9],[16.1,1.10e-9],[16.2,1.01e-9],[16.3,6.92e-10],[16.4,6.92e-10],
  [16.5,4.96e-10],[16.6,4.84e-10],[16.7,3.63e-10],[16.8,3.76e-10],[16.9,2.98e-10],[17.0,3.31e-10],[17.1,2.64e-10],
  [17.2,2.84e-10],[17.3,2.14e-10],[17.4,2.37e-10],[17.5,1.91e-10],[17.6,2.19e-10],[17.7,1.74e-10],[17.8,1.91e-10],
  [17.9,1.46e-10],[18.0,1.72e-10],[18.1,1.43e-10],[18.2,1.66e-10],[18.3,1.30e-10],[18.4,1.47e-10],[18.5,1.20e-10],
  [18.6,1.45e-10],[18.7,1.22e-10],[18.8,1.41e-10],[18.9,1.12e-10],[19.0,1.27e-10],[19.1,1.04e-10],[19.2,1.26e-10],
  [19.3,1.06e-10],[19.4,1.23e-10],[19.5,9.85e-11],[19.6,1.13e-10],[19.7,9.53e-11],[19.8,1.16e-10],[19.9,9.91e-11],
  [20.0,1.17e-10],[20.1,9.44e-11],[20.2,1.09e-10],[20.3,9.09e-11],[20.4,1.11e-10],[20.5,9.44e-11],[20.6,1.12e-10],
  [20.7,9.02e-11],[20.8,1.04e-10],[20.9,8.71e-11],[21.0,1.06e-10],[21.1,9.12e-11],[21.2,1.08e-10],[21.3,8.71e-11],
  [21.4,1.00e-10],[21.5,8.41e-11],[21.6,1.03e-10],[21.7,8.79e-11],[21.8,1.04e-10],[21.9,8.39e-11],[22.0,9.70e-11],
  [22.1,8.11e-11],[22.2,9.93e-11],[22.3,8.50e-11],[22.4,1.00e-10],[22.49,8.13e-11]
];

const mass44 = [
  [11.454,2.41e-9],[11.480,1.42e-9],[11.512,9.0e-10],[11.544,6.8e-10],[11.583,1.27e-9],[11.602,3.92e-9],
  [11.615,1.21e-8],[11.628,4.7e-8],[11.647,1.09e-7],[11.699,4.7e-8],[11.757,1.7e-8],[11.821,7.71e-9],
  [11.886,4.91e-9],[11.918,4.64e-9],[11.950,1.9e-8],[11.982,5.89e-8],[12.027,2.99e-8],[12.079,1.21e-8],
  [12.124,8.63e-9],[12.163,1.9e-8],[12.195,3.35e-8],[12.253,4.7e-8],[12.317,4.97e-8],[12.369,2.99e-8],
  [12.433,2.44e-8],[12.498,4.2e-8],[12.562,6.22e-8],[12.659,8.26e-8],[12.756,9.78e-8],[12.852,1.16e-7],
  [12.949,1.36e-7],[13.207,1.19e-7],[13.497,9.78e-8],[13.941,7.05e-8],[14.683,6.08e-8],[15.424,5.95e-8],
  [15.939,5.89e-8],[16.493,4.01e-8],[17.209,2.55e-8],[18.291,1.13e-8],[19.497,5.89e-9],[20.934,2.82e-9],
  [22.487,1.49e-9]
];

// [time (h), temperature]
const controlTemp1 = [
  [10.500,25],[11.550,25],[11.576,36.6],[11.596,53.6],[11.628,57.9],[11.660,62.1],[11.692,73.8],
  [11.737,83.4],[11.789,88.2],[11.873,89.2],[11.905,97.7],[11.944,119.0],[11.982,129.6],[12.034,133.3],
  [12.092,134.9],[12.130,148.2],[12.176,158.8],[12.221,162.5],[12.266,163.6],[12.304,182.7],[12.350,190.6],
  [12.388,193.3],[12.433,203.9],[12.472,212.9],[12.511,218.8],[12.549,227.8],[12.607,242.7],[12.691,261.3],
  [12.775,278.3],[12.865,293.1],[12.930,303.2],[12.994,300.0],[13.464,299.5],[14.109,300.0],[14.753,299.5],
  [15.398,300.0],[15.900,300.0],[16.010,292],[16.113,272],[16.216,259],[16.352,246],[16.481,235],
  [16.745,220],[17.009,207.6],[17.273,198.6],[17.531,190],[17.976,179.5],[18.620,166.7],[19.490,153.5],
  [20.231,144.4],[20.934,136.5],[21.713,128],[22.500,119.5]
];

// numbered process steps: time, temperature the arrow points at (null = from below the axis)
const stepLabels = ['1', '2', '3'];
const stepTimes = [11.366, 12.930, 15.880];
const stepTemps = [null, 300, 300];

// ---- helpers -----------------------------------------------------------
const FONT = 'Lato, "Open Sans", "Noto Sans", sans-serif';
const toPoints = arr => arr.map(([x, y]) => ({ x, y }));

function series(label, data, color, style, opts) {
  return Object.assign({
    label,
    data: toPoints(data),
    yAxisID: 'y',
    showLine: true,
    borderColor: color,
    backgroundColor: color,
    pointBackgroundColor: color,
    pointStyle: style,
    pointRadius: 0,
    pointBorderWidth: 0,
    borderJoinStyle: 'bevel',
    tension: 0
  }, opts);
}

const legendRadius = { rect: 10.5, triangle: 8.5, rectRot: 8, circle: 7.5 };

// boxed two-column legend inside the plot area
const legendBox = {
  id: 'legendBox',
  afterDraw(chart) {
    const { ctx, chartArea } = chart;
    const left = chartArea.left + 640, top = chartArea.top + 11, w = 1203, h = 276;
    ctx.save();
    ctx.fillStyle = 'rgba(0,0,0,0.3)';
    ctx.fillRect(left + 3, top + 3, w, h);
    ctx.fillStyle = '#ffffff';
    ctx.fillRect(left, top, w, h);
    ctx.strokeStyle = '#000000';
    ctx.lineWidth = 2;
    ctx.strokeRect(left, top, w, h);
    ctx.font = '53px ' + FONT;
    ctx.textAlign = 'left';
    ctx.textBaseline = 'alphabetic';
    chart.data.datasets.forEach((ds, i) => {
      const col = i % 2, row = Math.floor(i / 2);
      const cy = top + 34 + row * 69;
      const mx = left + (col ? 637 : 35);
      const tx = left + (col ? 670 : 69);
      ctx.fillStyle = ds.backgroundColor;
      Chart.helpers.drawPoint(ctx, { pointStyle: ds.pointStyle, rotation: 0, radius: legendRadius[ds.pointStyle], borderWidth: 0 }, mx, cy);
      ctx.fillStyle = '#000000';
      ctx.fillText(ds.label, tx, cy + 19);
    });
    ctx.restore();
  }
};

// circled step numbers with arrows
const stepMarks = {
  id: 'stepMarks',
  afterDraw(chart) {
    const { ctx, chartArea, scales } = chart;
    const r = 53;
    ctx.save();
    ctx.strokeStyle = '#000000';
    ctx.fillStyle = '#000000';
    ctx.lineWidth = 4.5;
    ctx.font = '80px ' + FONT;
    ctx.textAlign = 'center';
    ctx.textBaseline = 'alphabetic';
    stepTimes.forEach((t, i) => {
      const px = scales.x.getPixelForValue(t);
      let tip, dir, cy;
      if (stepTemps[i] === null) {
        tip = chartArea.bottom - 22; dir = 1; cy = tip + 194;
      } else {
        tip = scales.y2.getPixelForValue(stepTemps[i]) - 12; dir = -1; cy = tip - 94;
      }
      const headBase = tip + dir * 25;
      ctx.beginPath();
      ctx.arc(px, cy, r, 0, Math.PI * 2);
      ctx.stroke();
      ctx.fillText(stepLabels[i], px, cy + 29);
      ctx.beginPath();
      ctx.moveTo(px, headBase);
      ctx.lineTo(px, cy - dir * r);
      ctx.stroke();
      ctx.beginPath();
      ctx.moveTo(px, tip);
      ctx.lineTo(px - 11.5, headBase);
      ctx.lineTo(px + 11.5, headBase);
      ctx.closePath();
      ctx.fill();
    });
    ctx.restore();
  }
};

const datasets = [
  series('Mass 2', mass2, '#2F5597', 'rect', { borderWidth: 19, order: 7 }),
  series('Mass 4', mass4, '#8FAADC', 'rectRot', { showLine: false, pointRadius: 8.5, order: 6 }),
  series('Mass 18', mass18, '#0A32FF', 'triangle', { borderWidth: 16, order: 5 }),
  series('Mass 28', mass28, '#C55A11', 'rect', { borderWidth: 20, order: 4 }),
  series('Mass 32', mass32, '#00B0F0', 'rectRot', { borderWidth: 26, pointRadius: 7, order: 3 }),
  series('Mass 40', mass40, '#9438FF', 'triangle', {
    borderWidth: 26, pointRadius: 8, order: 2,
    segment: { borderWidth: c => (c.p0.parsed.x >= 16.0 ? 36 : 26) }
  }),
  series('Mass 44', mass44, '#FFD966', 'rect', { borderWidth: 25, order: 1 }),
  series('Control temperature 1', controlTemp1, '#FF0000', 'circle', { yAxisID: 'y2', borderWidth: 16, borderCapStyle: 'round', borderJoinStyle: 'round', order: 0 })
];

new Chart(document.getElementById('chart'), {
  type: 'scatter',
  data: { datasets },
  plugins: [legendBox, stepMarks],
  options: {
    responsive: false,
    devicePixelRatio: 1,
    animation: false,
    events: [],
    layout: { padding: { top: 45, left: 0, right: 0, bottom: 0 } },
    plugins: { legend: { display: false }, tooltip: { enabled: false } },
    scales: {
      x: {
        type: 'linear',
        min: 10.5,
        max: 22.5,
        afterBuildTicks: s => { s.ticks = timeTicks.map(v => ({ value: v })); },
        afterFit: s => { s.height = 226; s.paddingLeft = 0; s.paddingRight = 0; },
        ticks: {
          callback: v => timeLabels[timeTicks.indexOf(v)],
          font: { family: FONT, size: 58, weight: 'bold', lineHeight: 1.2 },
          color: '#000000',
          padding: 34,
          maxRotation: 0,
          autoSkip: false
        },
        grid: { color: '#1a1a1a', lineWidth: 2, drawTicks: false },
        border: { display: true, color: '#000000', width: 2 }
      },
      y: {
        type: 'logarithmic',
        position: 'left',
        min: 1e-11,
        max: 1e-5,
        afterBuildTicks: s => { s.ticks = pressureTicks.map(v => ({ value: v })); },
        afterFit: s => { s.width = 340; s.paddingTop = 0; s.paddingBottom = 0; },
        ticks: {
          callback: v => '1.E-' + String(Math.round(-Math.log10(v))).padStart(2, '0'),
          font: { family: FONT, size: 50, lineHeight: 1.2 },
          color: '#000000',
          padding: 54
        },
        grid: { color: '#1a1a1a', lineWidth: 2, drawTicks: false },
        border: { display: true, color: '#000000', width: 2 },
        title: {
          display: true,
          text: 'Pressure [Pa]',
          font: { family: FONT, size: 66, weight: 'bold', lineHeight: 1.2 },
          color: '#000000',
          padding: { top: 12, bottom: 0 }
        }
      },
      y2: {
        type: 'linear',
        position: 'right',
        min: 0,
        max: 650,
        afterBuildTicks: s => { s.ticks = tempTicks.map(v => ({ value: v })); },
        afterFit: s => { s.width = 155; s.paddingTop = 0; s.paddingBottom = 0; },
        ticks: {
          font: { family: FONT, size: 49, lineHeight: 1.2 },
          color: '#FF0000',
          padding: 36
        },
        grid: { drawOnChartArea: false, drawTicks: true, tickLength: 17, color: '#000000', tickColor: '#000000', tickWidth: 2 },
        border: { display: true, color: '#000000', width: 2 }
      }
    }
  }
});
</script>
</body>
</html>
